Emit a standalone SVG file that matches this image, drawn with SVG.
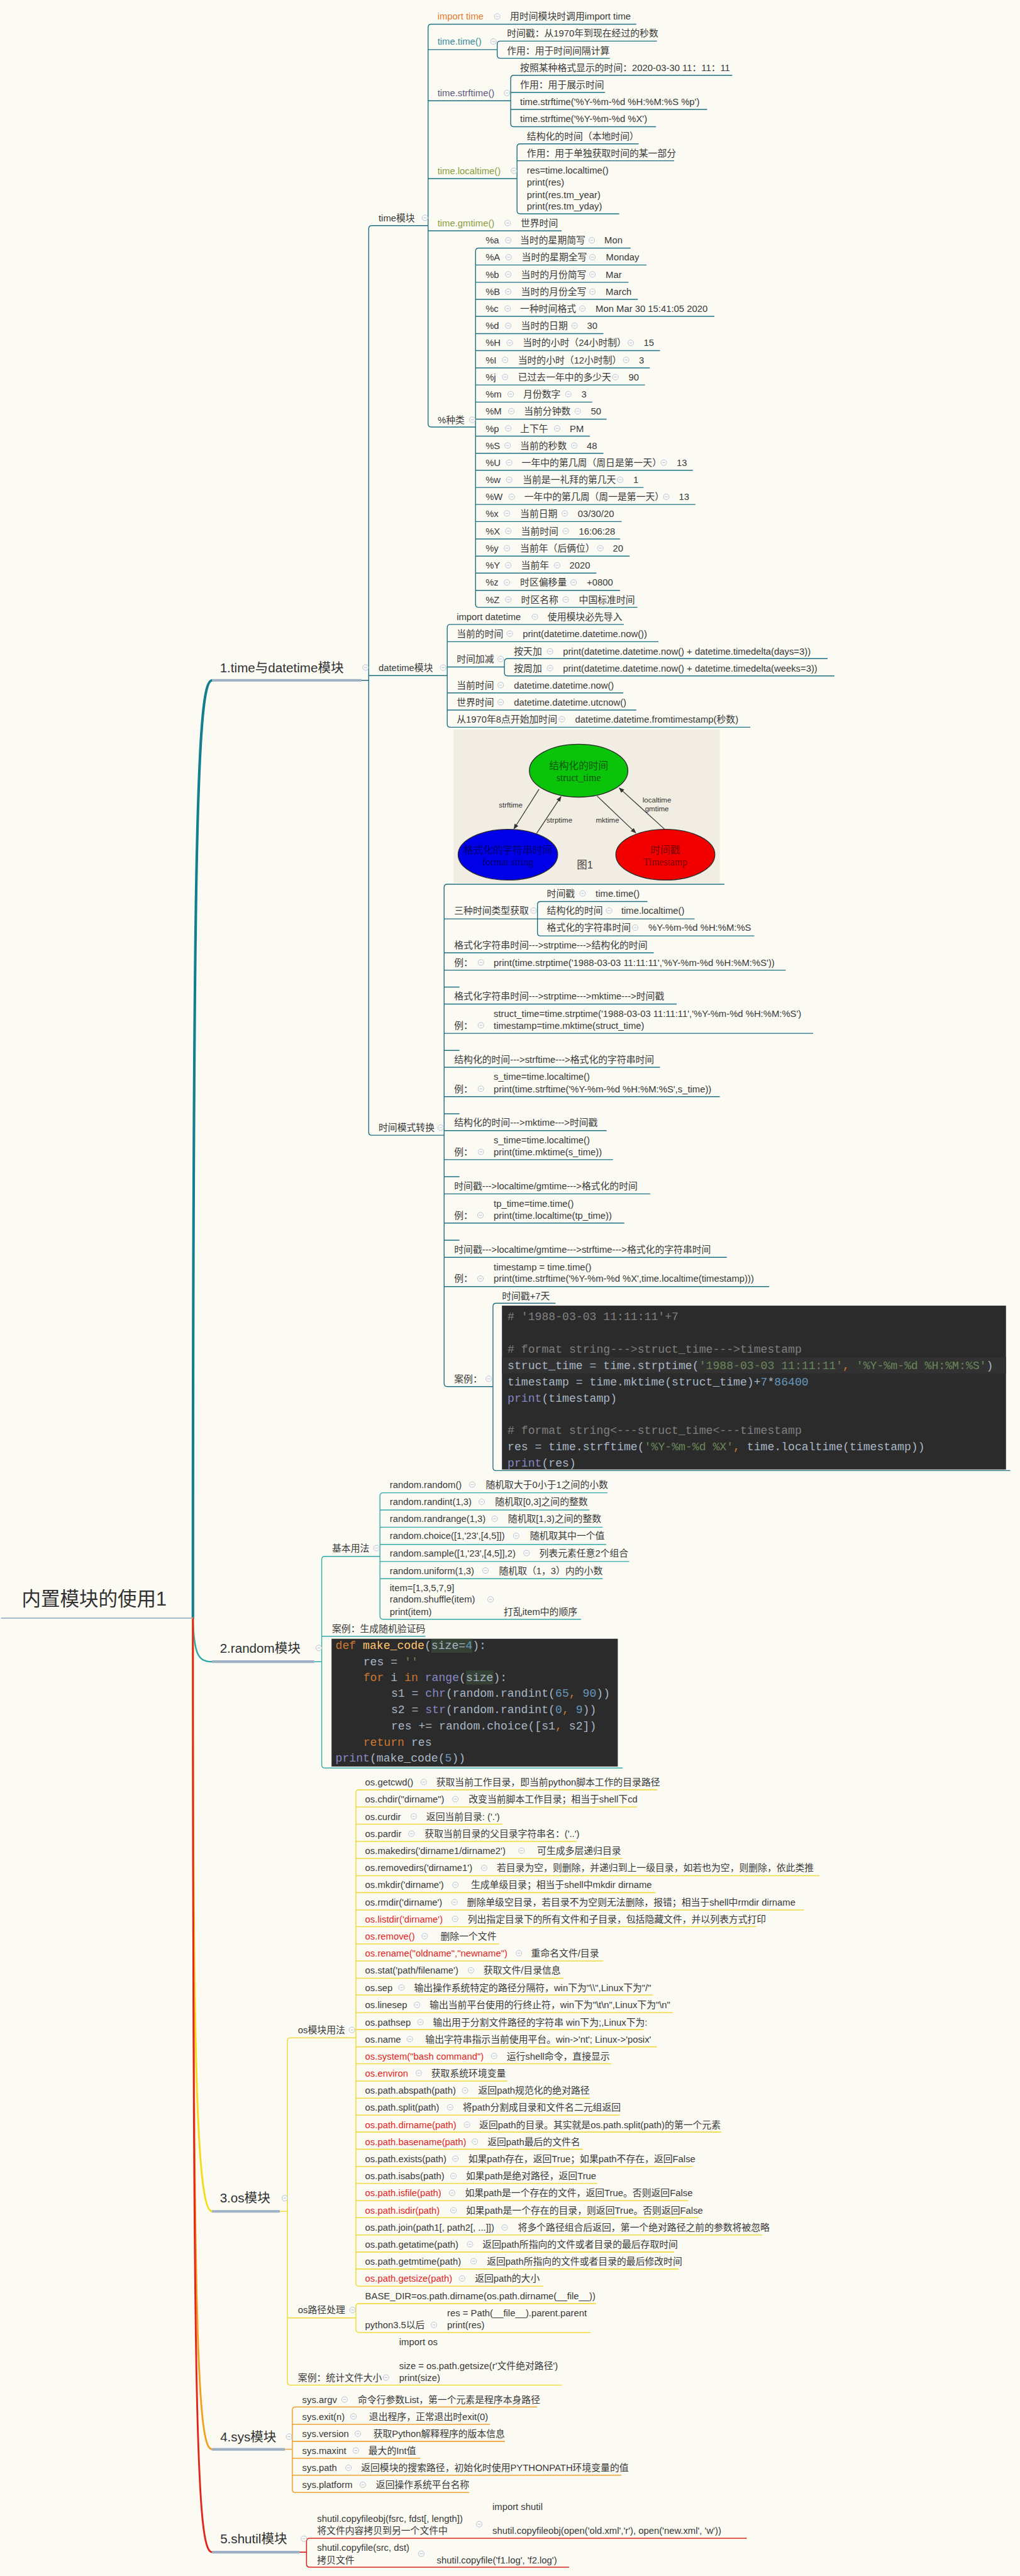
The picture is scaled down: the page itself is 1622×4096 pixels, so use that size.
<svg xmlns="http://www.w3.org/2000/svg" width="1622" height="4096" viewBox="0 0 1622 4096">
<style>
text{font-family:"Liberation Sans","Noto Sans CJK SC",sans-serif;font-size:18px;fill:#383838}
.m{font-size:25px;fill:#303030}
.rt{font-size:37px;fill:#303030}
.o{fill:#e07a2e}.tl{fill:#3b8c9c}.pu{fill:#5b587f}.ol{fill:#8c9b3e}.rd{fill:#e01e1e}
.lt{fill:none;stroke:#1d6f81;stroke-width:1.7}
.lr{fill:none;stroke:#33a9a9;stroke-width:1.7}
.lo{fill:none;stroke:#f0dc40;stroke-width:1.9}
.ls{fill:none;stroke:#efa133;stroke-width:1.9}
.lh{fill:none;stroke:#d9241c;stroke-width:1.9}
.mu{fill:none;stroke:#9db0c4;stroke-width:5}
.cd{font-family:"Liberation Mono","Noto Sans CJK SC",monospace;font-size:22px;fill:#a9b7c6;white-space:pre}
.cm{fill:#808080}.kw{fill:#cc7832}.st{fill:#6a8759}.nu{fill:#6897bb}.bi{fill:#8888c6}.fn{fill:#ffc66d}
.fig{font-family:"Liberation Serif","Noto Sans CJK SC",serif;font-size:19px;text-anchor:middle}
.al{font-size:14px;text-anchor:middle;fill:#333}
</style>
<defs>
<g id="k"><circle r="5.5" fill="#fcfcf6" stroke="#b5c0d4" stroke-width="1.2"/><path d="M-2.8 0H2.8" stroke="#b5c0d4" stroke-width="1.2"/></g>
<marker id="ah" viewBox="0 0 10 10" refX="9" refY="5" markerWidth="7" markerHeight="7" orient="auto"><path d="M0 1L10 5L0 9z" fill="#333"/></marker>
</defs>
<rect width="1622" height="4096" fill="#fbfbf4"/>
<g transform="scale(0.82465)">

<g id="connectors">
<path d="M372 3120C372 1600 380 1311.7 409 1311.7" fill="none" stroke="#137e8e" stroke-width="5" stroke-linecap="round"/>
<path d="M372 3120C374 3190 382 3204 409 3204" fill="none" stroke="#2ea7a7" stroke-width="3" stroke-linecap="round"/>
<path d="M372 3120C372 4000 380 4264 409 4264" fill="none" stroke="#f2dc1e" stroke-width="3.5" stroke-linecap="round"/>
<path d="M372 3120C372 4500 380 4722.7 409 4722.7" fill="none" stroke="#f3a022" stroke-width="3.5" stroke-linecap="round"/>
<path d="M372 3120C372 4700 380 4921 409 4921" fill="none" stroke="#e3261c" stroke-width="3.5" stroke-linecap="round"/>
<path d="M2 3120H372" fill="none" stroke="#9db0c4" stroke-width="2"/>
<path class="mu" d="M408.7 1311.7H697M408.7 3204H606M408.7 4264H539.5M408.7 4722.7H549.6M408.7 4921H577.7"/>
<g class="lt">
<path d="M697 1311.7H711M717 435Q711 435 711 441V2183Q711 2189 717 2189M717 435H825.5M711 1302.7H862.4M717 2189H856.4"/>
<path d="M831.5 46.7Q825.5 46.7 825.5 52.7V817.3Q825.5 823.3 831.5 823.3M831.5 46.7H1227M825.5 95.7H958.8M825.5 194.3H984.8M825.5 344.3H997M825.5 445H1083M831.5 823.3H917"/>
<path d="M964.8 79.3Q958.8 79.3 958.8 85.3V106.3Q958.8 112.3 964.8 112.3M964.8 79.3H1266.7M964.8 112.3H1175.8"/>
<path d="M990.8 145.3Q984.8 145.3 984.8 151.3V238.3Q984.8 244.3 990.8 244.3M990.8 145.3H1412M984.8 178.3H1166.7M984.8 211H1363.6M990.8 244.3H1265"/>
<path d="M1003 277.3Q997 277.3 997 283.3V406.3Q997 412.3 1003 412.3M1003 277.3H1231.5M997 310H1300M1003 412.3H1194"/>
<path d="M923 478.3Q917 478.3 917 484.3V1165Q917 1171 923 1171M923 478.3H1216M917 511H1246.6M917 544.3H1212M917 577.3H1230M917 610H1377.6M917 643.3H1163.6M917 676H1272.7M917 709.3H1253M917 742.3H1243.6M917 775.3H1142M917 808.3H1169.7M917 841H1137.6M917 874H1163.6M917 906.7H1336M917 940H1241M917 972.7H1341M917 1005.7H1198.8M917 1039.3H1195.8M917 1072.3H1214M917 1105H1150M917 1138.3H1195.8M923 1171H1229"/>
<path d="M868.4 1204Q862.4 1204 862.4 1210V1396.3Q862.4 1402.3 868.4 1402.3M868.4 1204H1203M862.4 1237.3H1269.7M862.4 1286H972.7M862.4 1336H1201.8M862.4 1369H1227M868.4 1402.3H1446.7"/>
<path d="M978.7 1270Q972.7 1270 972.7 1276V1297.3Q972.7 1303.3 978.7 1303.3M978.7 1270H1595.8M978.7 1303.3H1609"/>
<path d="M862.4 1705Q856.4 1705 856.4 1711V2667.6Q856.4 2673.6 862.4 2673.6M862.4 1705H1397M856.4 1771.8H1036.4M856.4 1837.1H1260.6M856.4 1870.7H1515M856.4 1903.2H886M856.4 1936H1304.8M856.4 1992.5H1567.9M856.4 2025.4H886M856.4 2057.9H1272.7M856.4 2114.6H1387.9M856.4 2147.5H886M856.4 2180H1169.7M856.4 2236H1181.8M856.4 2268.9H886M856.4 2302H1253.6M856.4 2358.2H1203.8M856.4 2391.4H886M856.4 2424.3H1401.5M856.4 2480.7H1483.2M862.4 2673.6H950.6"/>
<path d="M1042.4 1738.3Q1036.4 1738.3 1036.4 1744.3V1798.6Q1036.4 1804.6 1042.4 1804.6M1042.4 1738.3H1248.5M1036.4 1771.8H1339.4M1042.4 1804.6H1454.5"/>
<path d="M956.6 2512.9Q950.6 2512.9 950.6 2518.9V2829.6Q950.6 2835.6 956.6 2835.6M956.6 2512.9H1071.2M956.6 2835.6H1948"/>
</g>
<g class="lr">
<path d="M606 3204H620.4M626.4 3000.9Q620.4 3000.9 620.4 3006.9V3403Q620.4 3409 626.4 3409M626.4 3000.9H732.7M620.4 3155H820.4M626.4 3409H1200.5"/>
<path d="M738.7 2878.3Q732.7 2878.3 732.7 2884.3V3116.3Q732.7 3122.3 738.7 3122.3M738.7 2878.3H1171.4M732.7 2911.5H1136.7M732.7 2944.7H1162.2M732.7 2978H1168.9M732.7 3010.8H1213.3M732.7 3044H1162.2M738.7 3122.3H1120.4"/>
</g>
<g class="lo">
<path d="M539.5 4264H554.2M560.2 3929.3Q554.2 3929.3 554.2 3935.3V4593Q554.2 4599 560.2 4599M560.2 3929.3H686.2M554.2 4469.3H686.2M560.2 4599H1083.5"/>
<path d="M692.2 3451Q686.2 3451 686.2 3457V4402.3Q686.2 4408.3 692.2 4408.3M692.2 3451H1267.2M686.2 3484.3H1228.3M686.2 3517.3H968.8M686.2 3550.7H1112.2M686.2 3583.3H1200.3M686.2 3616.7H1580M686.2 3649.3H1264M686.2 3682.7H1550M686.2 3715H1458.5M686.2 3748.3H962.4M686.2 3781H1163.3M686.2 3814.3H1086.7M686.2 3846.7H1258.9M686.2 3880.7H1297.2M686.2 3913.3H1241M686.2 3946.7H1266.6M686.2 3979.3H1179.2M686.2 4012.7H978.3M686.2 4045.7H1137.8M686.2 4078.3H1195.2M686.2 4111H1391M686.2 4144H1123.7M686.2 4177.3H1335.5M686.2 4210H1151.8M686.2 4243.3H1327.2M686.2 4276H1347M686.2 4309.3H1469.4M686.2 4342.3H1300.4M686.2 4375H1308.7M692.2 4408.3H1047.2"/>
<path d="M692.2 4441.7Q686.2 4441.7 686.2 4447.7V4491.3Q686.2 4497.3 692.2 4497.3M692.2 4441.7H1149.2M692.2 4497.3H1139"/>
</g>
<g class="ls">
<path d="M549.6 4722.7H563.6M569.6 4641Q563.6 4641 563.6 4647V4800Q563.6 4806 569.6 4806M569.6 4641H1035.6M563.6 4674.3H945M563.6 4707.3H973.7M563.6 4740H810.5M563.6 4772.7H1198.2M569.6 4806H904.8"/>
</g>
<g class="lh">
<path d="M577.7 4921H591.1M597.1 4894.3Q591.1 4894.3 591.1 4900.3V4944Q591.1 4950 597.1 4950M597.1 4894.3H1440M597.1 4950H1097.4"/>
</g>
</g>

<g id="root"><text class="rt" x="42" y="3096">内置模块的使用1</text></g>

<g id="b1"><text class="m" x="424" y="1296">1.time与datetime模块</text><use href="#k" x="705" y="1287"/></g>
<g id="b2"><text class="m" x="424" y="3186.5">2.random模块</text><use href="#k" x="614.8" y="3177.6"/></g>
<g id="b3"><text class="m" x="424" y="4247">3.os模块</text><use href="#k" x="549.1" y="4238.3"/></g>
<g id="b4"><text class="m" x="424.6" y="4707">4.sys模块</text><use href="#k" x="557.3" y="4698.3"/></g>
<g id="b5"><text class="m" x="424.6" y="4904">5.shutil模块</text><use href="#k" x="586" y="4895"/></g>

<g id="n-time"><text x="730" y="426.5">time模块</text><use href="#k" x="819.4" y="420"/></g>
<g id="n-import-time"><text x="843.6" y="38.2" class="o">import time</text><use href="#k" x="958.8" y="31.7"/><text x="983.6" y="38.2">用时间模块时调用import time</text></g>
<g id="n-time-time"><text x="843.6" y="86.5" class="tl">time.time()</text><use href="#k" x="951.5" y="80"/></g>
<g id="n-tt1"><text x="977.6" y="70.8">时间戳：从1970年到现在经过的秒数</text></g>
<g id="n-tt2"><text x="977.6" y="103.8">作用：用于时间间隔计算</text></g>
<g id="n-strftime"><text x="843.6" y="185.8" class="pu">time.strftime()</text><use href="#k" x="977.6" y="179.3"/></g>
<g id="n-sf1"><text x="1003" y="136.5">按照某种格式显示的时间：2020-03-30 11：11：11</text></g>
<g id="n-sf2"><text x="1003" y="169.8">作用：用于展示时间</text></g>
<g id="n-sf3"><text x="1003" y="202.5">time.strftime('%Y-%m-%d %H:%M:%S %p')</text></g>
<g id="n-sf4"><text x="1003" y="235.8">time.strftime('%Y-%m-%d %X')</text></g>
<g id="n-localtime"><text x="843.6" y="335.8" class="ol">time.localtime()</text><use href="#k" x="991" y="329.3"/></g>
<g id="n-lt1"><text x="1016" y="268.8">结构化的时间（本地时间）</text></g>
<g id="n-lt2"><text x="1016" y="302.2">作用：用于单独获取时间的某一部分</text></g>
<g id="n-lt3"><text x="1016" y="334.8">res=time.localtime()</text><text x="1016" y="358.2">print(res)</text><text x="1016" y="381.5">print(res.tm_year)</text><text x="1016" y="403.8">print(res.tm_yday)</text></g>
<g id="n-gmtime"><text x="843.6" y="436.5" class="ol">time.gmtime()</text><use href="#k" x="978.8" y="430"/><text x="1004" y="436.5">世界时间</text></g>
<g id="n-pct"><text x="844" y="815.8">%种类</text><use href="#k" x="911" y="809.3"/></g>

<g id="n-pa"><text x="936.4" y="469.8">%a</text><use href="#k" x="980" y="463.3"/><text x="1003" y="469.8">当时的星期简写</text><use href="#k" x="1141.2" y="463.3"/><text x="1165.5" y="469.8">Mon</text></g>
<g id="n-pA"><text x="936.4" y="502.5">%A</text><use href="#k" x="980.6" y="496"/><text x="1006" y="502.5">当时的星期全写</text><use href="#k" x="1142.4" y="496"/><text x="1168.5" y="502.5">Monday</text></g>
<g id="n-pb"><text x="936.4" y="535.5">%b</text><use href="#k" x="980" y="529"/><text x="1004.8" y="535.5">当时的月份简写</text><use href="#k" x="1142.4" y="529"/><text x="1167.9" y="535.5">Mar</text></g>
<g id="n-pB"><text x="936.4" y="568.8">%B</text><use href="#k" x="980" y="562.3"/><text x="1004.8" y="568.8">当时的月份全写</text><use href="#k" x="1142.4" y="562.3"/><text x="1167.9" y="568.8">March</text></g>
<g id="n-pc"><text x="936.4" y="601.5">%c</text><use href="#k" x="978.8" y="595"/><text x="1003" y="601.5">一种时间格式</text><use href="#k" x="1123" y="595"/><text x="1148.5" y="601.5">Mon Mar 30 15:41:05 2020</text></g>
<g id="n-pd"><text x="936.4" y="634.5">%d</text><use href="#k" x="980" y="628"/><text x="1004.8" y="634.5">当时的日期</text><use href="#k" x="1107.9" y="628"/><text x="1132" y="634.5">30</text></g>
<g id="n-pH"><text x="936.4" y="667.5">%H</text><use href="#k" x="983" y="661"/><text x="1007.9" y="667.5">当时的小时（24小时制）</text><use href="#k" x="1216.4" y="661"/><text x="1241.2" y="667.5">15</text></g>
<g id="n-pI"><text x="936.4" y="700.5">%I</text><use href="#k" x="974" y="694"/><text x="998.8" y="700.5">当时的小时（12小时制）</text><use href="#k" x="1207.3" y="694"/><text x="1232" y="700.5">3</text></g>
<g id="n-pj"><text x="936.4" y="733.5">%j</text><use href="#k" x="974" y="727"/><text x="998.8" y="733.5">已过去一年中的多少天</text><use href="#k" x="1186.7" y="727"/><text x="1212" y="733.5">90</text></g>
<g id="n-pm"><text x="936.4" y="766.5">%m</text><use href="#k" x="984.8" y="760"/><text x="1009" y="766.5">月份数字</text><use href="#k" x="1095.8" y="760"/><text x="1121.2" y="766.5">3</text></g>
<g id="n-pM"><text x="936.4" y="799.5">%M</text><use href="#k" x="986" y="793"/><text x="1010.3" y="799.5">当前分钟数</text><use href="#k" x="1114" y="793"/><text x="1139.4" y="799.5">50</text></g>
<g id="n-pp"><text x="936.4" y="832.5">%p</text><use href="#k" x="980" y="826"/><text x="1003" y="832.5">上下午</text><use href="#k" x="1074.5" y="826"/><text x="1098.8" y="832.5">PM</text></g>
<g id="n-pS"><text x="936.4" y="865.5">%S</text><use href="#k" x="978.8" y="859"/><text x="1003" y="865.5">当前的秒数</text><use href="#k" x="1107.3" y="859"/><text x="1131.5" y="865.5">48</text></g>
<g id="n-pU"><text x="936.4" y="898.5">%U</text><use href="#k" x="981.8" y="892"/><text x="1006" y="898.5">一年中的第几周（周日是第一天）</text><use href="#k" x="1280" y="892"/><text x="1304.8" y="898.5">13</text></g>
<g id="n-pw"><text x="936.4" y="931.5">%w</text><use href="#k" x="981.8" y="925"/><text x="1007.9" y="931.5">当前是一礼拜的第几天</text><use href="#k" x="1195.8" y="925"/><text x="1221.2" y="931.5">1</text></g>
<g id="n-pW"><text x="936.4" y="964.5">%W</text><use href="#k" x="986.7" y="958"/><text x="1011" y="964.5">一年中的第几周（周一是第一天）</text><use href="#k" x="1284.8" y="958"/><text x="1309" y="964.5">13</text></g>
<g id="n-px"><text x="936.4" y="996.5">%x</text><use href="#k" x="977.6" y="990"/><text x="1003" y="996.5">当前日期</text><use href="#k" x="1089" y="990"/><text x="1114" y="996.5">03/30/20</text></g>
<g id="n-pX"><text x="936.4" y="1030.5">%X</text><use href="#k" x="980" y="1024"/><text x="1004.8" y="1030.5">当前时间</text><use href="#k" x="1091" y="1024"/><text x="1116.4" y="1030.5">16:06:28</text></g>
<g id="n-py"><text x="936.4" y="1063.5">%y</text><use href="#k" x="977.6" y="1057"/><text x="1003" y="1063.5">当前年（后俩位）</text><use href="#k" x="1157.6" y="1057"/><text x="1181.8" y="1063.5">20</text></g>
<g id="n-pY"><text x="936.4" y="1096.5">%Y</text><use href="#k" x="980" y="1090"/><text x="1004.8" y="1096.5">当前年</text><use href="#k" x="1074.5" y="1090"/><text x="1098.2" y="1096.5">2020</text></g>
<g id="n-pz"><text x="936.4" y="1129.5">%z</text><use href="#k" x="977.6" y="1123"/><text x="1003" y="1129.5">时区偏移量</text><use href="#k" x="1106" y="1123"/><text x="1131.5" y="1129.5">+0800</text></g>
<g id="n-pZ"><text x="936.4" y="1162.5">%Z</text><use href="#k" x="980" y="1156"/><text x="1004.8" y="1162.5">时区名称</text><use href="#k" x="1091" y="1156"/><text x="1116.4" y="1162.5">中国标准时间</text></g>

<g id="n-datetime"><text x="730" y="1293.8">datetime模块</text><use href="#k" x="854.5" y="1287.3"/></g>
<g id="n-dt1"><text x="880.6" y="1195.8">import datetime</text><use href="#k" x="1031.5" y="1189.3"/><text x="1056" y="1195.8">使用模块必先导入</text></g>
<g id="n-dt2"><text x="880.6" y="1228.2">当前的时间</text><use href="#k" x="983" y="1221.7"/><text x="1007.9" y="1228.2">print(datetime.datetime.now())</text></g>
<g id="n-dt3"><text x="880.6" y="1277.2">时间加减</text><use href="#k" x="965.5" y="1270.7"/></g>
<g id="n-dt3a"><text x="991" y="1262.5">按天加</text><use href="#k" x="1060.6" y="1256"/><text x="1085.5" y="1262.5">print(datetime.datetime.now() + datetime.timedelta(days=3))</text></g>
<g id="n-dt3b"><text x="991" y="1294.8">按周加</text><use href="#k" x="1060.6" y="1288.3"/><text x="1085.5" y="1294.8">print(datetime.datetime.now() + datetime.timedelta(weeks=3))</text></g>
<g id="n-dt4"><text x="880.6" y="1327.5">当前时间</text><use href="#k" x="965.5" y="1321"/><text x="991" y="1327.5">datetime.datetime.now()</text></g>
<g id="n-dt5"><text x="880.6" y="1360.5">世界时间</text><use href="#k" x="965.5" y="1354"/><text x="991" y="1360.5">datetime.datetime.utcnow()</text></g>
<g id="n-dt6"><text x="880.6" y="1393.2">从1970年8点开始加时间</text><use href="#k" x="1083.6" y="1386.7"/><text x="1109" y="1393.2">datetime.datetime.fromtimestamp(秒数)</text></g>

<g id="n-conv"><text x="730" y="2180.8">时间模式转换</text><use href="#k" x="849.7" y="2174.3"/></g>
<g id="n-figure">
<rect x="874.5" y="1406.7" width="513.5" height="296" fill="#f2ede3"/>
<ellipse cx="1115.8" cy="1486" rx="95" ry="51" fill="#0ac40a" stroke="#2a2a2a" stroke-width="1.6"/>
<ellipse cx="979.4" cy="1648" rx="96" ry="49" fill="#0000e8" stroke="#2a2a2a" stroke-width="1.6"/>
<ellipse cx="1283" cy="1648" rx="95.5" ry="49" fill="#f20000" stroke="#2a2a2a" stroke-width="1.6"/>
<text class="fig" x="1115.8" y="1483" fill="#0b560b" style="fill:#0b560b">结构化的时间</text>
<text class="fig" x="1115.8" y="1506" style="fill:#0b560b">struct_time</text>
<text class="fig" x="979.4" y="1645" style="fill:#00006e">格式化的字符串时间</text>
<text class="fig" x="979.4" y="1668" style="fill:#00006e">format string</text>
<text class="fig" x="1283" y="1645" style="fill:#7a0000">时间戳</text>
<text class="fig" x="1283" y="1668" style="fill:#7a0000">Timestamp</text>
<text x="1128" y="1675" style="font-size:20px;fill:#444;text-anchor:middle">图1</text>
<g stroke="#333" stroke-width="1.5" marker-end="url(#ah)">
<line x1="1039.4" y1="1521.7" x2="991" y2="1598.3"/>
<line x1="1035" y1="1606.7" x2="1081.8" y2="1536"/>
<line x1="1151.5" y1="1535" x2="1226" y2="1606"/>
<line x1="1281.8" y1="1599" x2="1194" y2="1519.3"/>
</g>
<text class="al" x="984.8" y="1556.7">strftime</text>
<text class="al" x="1078.8" y="1585.7">strptime</text>
<text class="al" x="1171.5" y="1585.7">mktime</text>
<text class="al" x="1266.7" y="1547.7">localtime</text>
<text class="al" x="1266.7" y="1564.3">gmtime</text>
</g>
<g id="n-three"><text x="875.8" y="1762.2">三种时间类型获取</text><use href="#k" x="1029" y="1755.7"/></g>
<g id="n-three1"><text x="1054.5" y="1729.2">时间戳</text><use href="#k" x="1123.6" y="1722.7"/><text x="1148.5" y="1729.2">time.time()</text></g>
<g id="n-three2"><text x="1054.5" y="1762.2">结构化的时间</text><use href="#k" x="1174.5" y="1755.7"/><text x="1198" y="1762.2">time.localtime()</text></g>
<g id="n-three3"><text x="1054.5" y="1795.1">格式化的字符串时间</text><use href="#k" x="1224.8" y="1788.6"/><text x="1250.3" y="1795.1">%Y-%m-%d %H:%M:%S</text></g>
<g id="n-c1"><text x="875.8" y="1829">格式化字符串时间---&gt;strptime---&gt;结构化的时间</text></g>
<g id="n-e1"><text x="875.8" y="1862.2">例：</text><use href="#k" x="927.3" y="1855.7"/><text x="952" y="1862.2">print(time.strptime('1988-03-03 11:11:11','%Y-%m-%d %H:%M:%S'))</text></g>
<g id="n-c2"><text x="875.8" y="1927.5">格式化字符串时间---&gt;strptime---&gt;mktime---&gt;时间戳</text></g>
<g id="n-e2"><text x="875.8" y="1983.5">例：</text><use href="#k" x="927.3" y="1977"/><text x="952" y="1960.4">struct_time=time.strptime('1988-03-03 11:11:11','%Y-%m-%d %H:%M:%S')</text><text x="952" y="1983.5">timestamp=time.mktime(struct_time)</text></g>
<g id="n-c3"><text x="875.8" y="2049.7">结构化的时间---&gt;strftime---&gt;格式化的字符串时间</text></g>
<g id="n-e3"><text x="875.8" y="2105.8">例：</text><use href="#k" x="927.3" y="2099.3"/><text x="952" y="2082.5">s_time=time.localtime()</text><text x="952" y="2105.8">print(time.strftime('%Y-%m-%d %H:%M:%S',s_time))</text></g>
<g id="n-c4"><text x="875.8" y="2171.1">结构化的时间---&gt;mktime---&gt;时间戳</text></g>
<g id="n-e4"><text x="875.8" y="2227.5">例：</text><use href="#k" x="927.3" y="2221"/><text x="952" y="2204.4">s_time=time.localtime()</text><text x="952" y="2227.5">print(time.mktime(s_time))</text></g>
<g id="n-c5"><text x="875.8" y="2293.5">时间戳---&gt;localtime/gmtime---&gt;格式化的时间</text></g>
<g id="n-e5"><text x="875.8" y="2349.7">例：</text><use href="#k" x="926.4" y="2343.2"/><text x="952" y="2326.5">tp_time=time.time()</text><text x="952" y="2349.7">print(time.localtime(tp_time))</text></g>
<g id="n-c6"><text x="875.8" y="2415.8">时间戳---&gt;localtime/gmtime---&gt;strftime---&gt;格式化的字符串时间</text></g>
<g id="n-e6"><text x="875.8" y="2471.9">例：</text><use href="#k" x="926.4" y="2465.4"/><text x="952" y="2449">timestamp = time.time()</text><text x="952" y="2471.9">print(time.strftime('%Y-%m-%d %X',time.localtime(timestamp)))</text></g>
<g id="n-case1"><text x="875.8" y="2665.1">案例：</text><use href="#k" x="942.3" y="2658.6"/></g>
<g id="n-case1a"><text x="967.9" y="2505.1">时间戳+7天</text></g>
<g id="n-case1code">
<rect x="967.9" y="2517.5" width="972" height="316" fill="#2b2b2b"/>
<rect x="967.9" y="2617" width="972" height="31" fill="#323232"/>
<text class="cd" x="978.7" y="2545.5"><tspan class="cm"># '1988-03-03 11:11:11'+7</tspan></text>
<text class="cd" x="978.7" y="2609"><tspan class="cm"># format string---&gt;struct_time---&gt;timestamp</tspan></text>
<text class="cd" x="978.7" y="2640">struct_time = time.strptime(<tspan class="st">'1988-03-03 11:11:11'</tspan><tspan class="kw">, </tspan><tspan class="st">'%Y-%m-%d %H:%M:%S'</tspan>)</text>
<text class="cd" x="978.7" y="2671">timestamp = time.mktime(struct_time)+<tspan class="nu">7</tspan>*<tspan class="nu">86400</tspan></text>
<text class="cd" x="978.7" y="2702.5"><tspan class="bi">print</tspan>(timestamp)</text>
<text class="cd" x="978.7" y="2765"><tspan class="cm"># format string&lt;---struct_time&lt;---timestamp</tspan></text>
<text class="cd" x="978.7" y="2796">res = time.strftime(<tspan class="st">'%Y-%m-%d %X'</tspan><tspan class="kw">, </tspan>time.localtime(timestamp))</text>
<text class="cd" x="978.7" y="2827.5"><tspan class="bi">print</tspan>(res)</text>
</g>

<g id="n-rand-basic"><text x="640.3" y="2991.5">基本用法</text><use href="#k" x="726" y="2985"/></g>
<g id="n-r1"><text x="751.5" y="2869">random.random()</text><use href="#k" x="910.7" y="2862.5"/><text x="936.7" y="2869">随机取大于0小于1之间的小数</text></g>
<g id="n-r2"><text x="751.5" y="2902.2">random.randint(1,3)</text><use href="#k" x="929" y="2895.7"/><text x="954.6" y="2902.2">随机取[0,3]之间的整数</text></g>
<g id="n-r3"><text x="751.5" y="2935">random.randrange(1,3)</text><use href="#k" x="954" y="2928.5"/><text x="979.6" y="2935">随机取[1,3)之间的整数</text></g>
<g id="n-r4"><text x="751.5" y="2967.8">random.choice([1,'23',[4,5]])</text><use href="#k" x="995.4" y="2961.3"/><text x="1022" y="2967.8">随机取其中一个值</text></g>
<g id="n-r5"><text x="751.5" y="3001">random.sample([1,'23',[4,5]],2)</text><use href="#k" x="1015.3" y="2994.5"/><text x="1039.8" y="3001">列表元素任意2个组合</text></g>
<g id="n-r6"><text x="751.5" y="3034.7">random.uniform(1,3)</text><use href="#k" x="936.2" y="3028.2"/><text x="962.2" y="3034.7">随机取（1，3）内的小数</text></g>
<g id="n-r7"><text x="751.5" y="3067.5">item=[1,3,5,7,9]</text><text x="751.5" y="3090.4">random.shuffle(item)</text><text x="751.5" y="3113.7">print(item)</text><use href="#k" x="945.9" y="3083.9"/><text x="971.4" y="3113.7">打乱item中的顺序</text></g>
<g id="n-rand-case"><text x="640.3" y="3146.5">案例：生成随机验证码</text></g>
<g id="n-rand-code">
<rect x="639.3" y="3159.8" width="552" height="246.4" fill="#2b2b2b"/>
<rect x="831.8" y="3160" width="79" height="27" fill="#344134"/>
<rect x="898.6" y="3221" width="53" height="27" fill="#344134"/>
<text class="cd" x="647" y="3179"><tspan class="kw">def</tspan> <tspan class="fn">make_code</tspan>(size=<tspan class="nu">4</tspan>):</text>
<text class="cd" x="700.6" y="3211">res = <tspan class="st">''</tspan></text>
<text class="cd" x="700.6" y="3241"><tspan class="kw">for</tspan> i <tspan class="kw">in</tspan> <tspan class="bi">range</tspan>(size):</text>
<text class="cd" x="754.2" y="3272">s1 = <tspan class="bi">chr</tspan>(random.randint(<tspan class="nu">65</tspan><tspan class="kw">,</tspan> <tspan class="nu">90</tspan>))</text>
<text class="cd" x="754.2" y="3303">s2 = <tspan class="bi">str</tspan>(random.randint(<tspan class="nu">0</tspan><tspan class="kw">,</tspan> <tspan class="nu">9</tspan>))</text>
<text class="cd" x="754.2" y="3334.5">res += random.choice([s1<tspan class="kw">,</tspan> s2])</text>
<text class="cd" x="700.6" y="3366"><tspan class="kw">return</tspan> res</text>
<text class="cd" x="647" y="3397"><tspan class="bi">print</tspan>(make_code(<tspan class="nu">5</tspan>))</text>
</g>

<g id="n-os-usage"><text x="574.6" y="3920.5">os模块用法</text><use href="#k" x="678.6" y="3914"/></g>
<g id="n-os1"><text x="704.1" y="3442.5">os.getcwd()</text><use href="#k" x="817" y="3436"/><text x="841.2" y="3442.5">获取当前工作目录，即当前python脚本工作的目录路径</text></g>
<g id="n-os2"><text x="704.1" y="3475.5">os.chdir("dirname")</text><use href="#k" x="878.2" y="3469"/><text x="903.7" y="3475.5">改变当前脚本工作目录；相当于shell下cd</text></g>
<g id="n-os3"><text x="704.1" y="3508.8">os.curdir</text><use href="#k" x="797.8" y="3502.3"/><text x="822" y="3508.8">返回当前目录: ('.')</text></g>
<g id="n-os4"><text x="704.1" y="3542.2">os.pardir</text><use href="#k" x="793.4" y="3535.7"/><text x="818.9" y="3542.2">获取当前目录的父目录字符串名：('..')</text></g>
<g id="n-os5"><text x="704.1" y="3574.8">os.makedirs('dirname1/dirname2')</text><use href="#k" x="1005.7" y="3568.3"/><text x="1035.7" y="3574.8">可生成多层递归目录</text></g>
<g id="n-os6"><text x="704.1" y="3608.2">os.removedirs('dirname1')</text><use href="#k" x="933.7" y="3601.7"/><text x="957.9" y="3608.2">若目录为空，则删除，并递归到上一级目录，如若也为空，则删除，依此类推</text></g>
<g id="n-os7"><text x="704.1" y="3640.8">os.mkdir('dirname')</text><use href="#k" x="878.2" y="3634.3"/><text x="908.2" y="3640.8">生成单级目录；相当于shell中mkdir dirname</text></g>
<g id="n-os8"><text x="704.1" y="3674.2">os.rmdir('dirname')</text><use href="#k" x="876.3" y="3667.7"/><text x="900.5" y="3674.2">删除单级空目录，若目录不为空则无法删除，报错；相当于shell中rmdir dirname</text></g>
<g id="n-os9"><text x="704.1" y="3706.5" class="rd">os.listdir('dirname')</text><use href="#k" x="877.6" y="3700"/><text x="901.8" y="3706.5">列出指定目录下的所有文件和子目录，包括隐藏文件，并以列表方式打印</text></g>
<g id="n-os10"><text x="704.1" y="3739.8" class="rd">os.remove()</text><use href="#k" x="818.9" y="3733.3"/><text x="849.5" y="3739.8">删除一个文件</text></g>
<g id="n-os11"><text x="704.1" y="3772.5" class="rd">os.rename("oldname","newname")</text><use href="#k" x="1000.6" y="3766"/><text x="1024.2" y="3772.5">重命名文件/目录</text></g>
<g id="n-os12"><text x="704.1" y="3805.5">os.stat('path/filename')</text><use href="#k" x="908.2" y="3799"/><text x="932.4" y="3805.5">获取文件/目录信息</text></g>
<g id="n-os13"><text x="704.1" y="3838.8">os.sep</text><use href="#k" x="774.2" y="3832.3"/><text x="798.5" y="3838.8">输出操作系统特定的路径分隔符，win下为"\\",Linux下为"/"</text></g>
<g id="n-os14"><text x="704.1" y="3872.2">os.linesep</text><use href="#k" x="804.2" y="3865.7"/><text x="828.4" y="3872.2">输出当前平台使用的行终止符，win下为"\t\n",Linux下为"\n"</text></g>
<g id="n-os15"><text x="704.1" y="3905.5">os.pathsep</text><use href="#k" x="810.6" y="3899"/><text x="834.8" y="3905.5">输出用于分割文件路径的字符串 win下为;,Linux下为:</text></g>
<g id="n-os16"><text x="704.1" y="3938.2">os.name</text><use href="#k" x="790.2" y="3931.7"/><text x="820.2" y="3938.2">输出字符串指示当前使用平台。win-&gt;'nt'; Linux-&gt;'posix'</text></g>
<g id="n-os17"><text x="704.1" y="3970.8" class="rd">os.system("bash command")</text><use href="#k" x="952.8" y="3964.3"/><text x="977" y="3970.8">运行shell命令，直接显示</text></g>
<g id="n-os18"><text x="704.1" y="4003.8" class="rd">os.environ</text><use href="#k" x="807.4" y="3997.3"/><text x="831.6" y="4003.8">获取系统环境变量</text></g>
<g id="n-os19"><text x="704.1" y="4037.2">os.path.abspath(path)</text><use href="#k" x="896.7" y="4030.7"/><text x="922.2" y="4037.2">返回path规范化的绝对路径</text></g>
<g id="n-os20"><text x="704.1" y="4069.8">os.path.split(path)</text><use href="#k" x="868" y="4063.3"/><text x="892.2" y="4069.8">将path分割成目录和文件名二元组返回</text></g>
<g id="n-os21"><text x="704.1" y="4103.2" class="rd">os.path.dirname(path)</text><use href="#k" x="900.5" y="4096.7"/><text x="924.1" y="4103.2">返回path的目录。其实就是os.path.split(path)的第一个元素</text></g>
<g id="n-os22"><text x="704.1" y="4135.8" class="rd">os.path.basename(path)</text><use href="#k" x="915.8" y="4129.3"/><text x="940" y="4135.8">返回path最后的文件名</text></g>
<g id="n-os23"><text x="704.1" y="4168.8">os.path.exists(path)</text><use href="#k" x="878.2" y="4162.3"/><text x="903" y="4168.8">如果path存在，返回True；如果path不存在，返回False</text></g>
<g id="n-os24"><text x="704.1" y="4202.2">os.path.isabs(path)</text><use href="#k" x="874.4" y="4195.7"/><text x="898.6" y="4202.2">如果path是绝对路径，返回True</text></g>
<g id="n-os25"><text x="704.1" y="4234.8" class="rd">os.path.isfile(path)</text><use href="#k" x="871.8" y="4228.3"/><text x="896.7" y="4234.8">如果path是一个存在的文件，返回True。否则返回False</text></g>
<g id="n-os26"><text x="704.1" y="4268.2" class="rd">os.path.isdir(path)</text><use href="#k" x="874.4" y="4261.7"/><text x="898.6" y="4268.2">如果path是一个存在的目录，则返回True。否则返回False</text></g>
<g id="n-os27"><text x="704.1" y="4301.5">os.path.join(path1[, path2[, ...]])</text><use href="#k" x="973.2" y="4295"/><text x="998.7" y="4301.5">将多个路径组合后返回，第一个绝对路径之前的参数将被忽略</text></g>
<g id="n-os28"><text x="704.1" y="4333.8">os.path.getatime(path)</text><use href="#k" x="906.3" y="4327.3"/><text x="930.5" y="4333.8">返回path所指向的文件或者目录的最后存取时间</text></g>
<g id="n-os29"><text x="704.1" y="4366.5">os.path.getmtime(path)</text><use href="#k" x="913.3" y="4360"/><text x="938.8" y="4366.5">返回path所指向的文件或者目录的最后修改时间</text></g>
<g id="n-os30"><text x="704.1" y="4399.8" class="rd">os.path.getsize(path)</text><use href="#k" x="891" y="4393.3"/><text x="915.8" y="4399.8">返回path的大小</text></g>
<g id="n-os-path"><text x="574.6" y="4460.5">os路径处理</text><use href="#k" x="679.8" y="4454"/></g>
<g id="n-osp1"><text x="704.1" y="4433.2">BASE_DIR=os.path.dirname(os.path.dirname(__file__))</text></g>
<g id="n-osp2"><text x="704.1" y="4489.2">python3.5以后</text><use href="#k" x="836.7" y="4482.7"/><text x="862.2" y="4465.8">res = Path(__file__).parent.parent</text><text x="862.2" y="4489.2">print(res)</text></g>
<g id="n-os-case"><text x="574.6" y="4590.8">案例：统计文件大小</text><use href="#k" x="744.3" y="4584.3"/><text x="769.8" y="4522.2">import os</text><text x="769.8" y="4568.2">size = os.path.getsize(r'文件绝对路径')</text><text x="769.8" y="4590.8">print(size)</text></g>

<g id="n-sys1"><text x="582.8" y="4633.2">sys.argv</text><use href="#k" x="664.4" y="4626.7"/><text x="690" y="4633.2">命令行参数List，第一个元素是程序本身路径</text></g>
<g id="n-sys2"><text x="582.8" y="4665.8">sys.exit(n)</text><use href="#k" x="681.6" y="4659.3"/><text x="711.6" y="4665.8">退出程序，正常退出时exit(0)</text></g>
<g id="n-sys3"><text x="582.8" y="4699.2">sys.version</text><use href="#k" x="690" y="4692.7"/><text x="719.9" y="4699.2">获取Python解释程序的版本信息</text></g>
<g id="n-sys4"><text x="582.8" y="4731.5">sys.maxint</text><use href="#k" x="686.1" y="4725"/><text x="710.3" y="4731.5">最大的Int值</text></g>
<g id="n-sys5"><text x="582.8" y="4764.8">sys.path</text><use href="#k" x="672" y="4758.3"/><text x="696.3" y="4764.8">返回模块的搜索路径，初始化时使用PYTHONPATH环境变量的值</text></g>
<g id="n-sys6"><text x="582.8" y="4797.5">sys.platform</text><use href="#k" x="699.5" y="4791"/><text x="725" y="4797.5">返回操作系统平台名称</text></g>

<g id="n-sh1"><text x="611.5" y="4862.5">shutil.copyfileobj(fsrc, fdst[, length])</text><text x="611.5" y="4885.5">将文件内容拷贝到另一个文件中</text><use href="#k" x="924" y="4867"/><text x="949.5" y="4839.8">import shutil</text><text x="949.5" y="4885.5">shutil.copyfileobj(open('old.xml','r'), open('new.xml', 'w'))</text></g>
<g id="n-sh2"><text x="611.5" y="4918.8">shutil.copyfile(src, dst)</text><text x="611.5" y="4942.2">拷贝文件</text><use href="#k" x="812.4" y="4924"/><text x="842.3" y="4942.2">shutil.copyfile('f1.log', 'f2.log')</text></g>

</g>
</svg>
